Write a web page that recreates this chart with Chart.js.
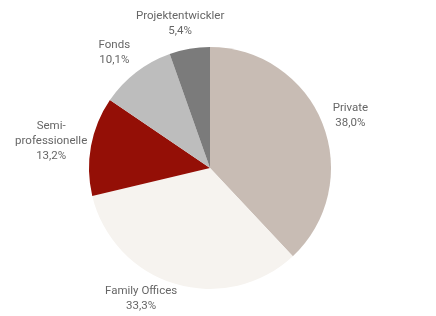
<!DOCTYPE html>
<html>
<head>
<meta charset="utf-8">
<script src="https://cdn.jsdelivr.net/npm/chart.js@4/dist/chart.umd.min.js"></script>
<style>
  html, body { margin: 0; padding: 0; background: #fff; }
  #wrap { width: 436px; height: 316px; position: relative; }
</style>
</head>
<body>
<div id="wrap"><canvas id="pieChart"></canvas></div>
<script>
(function () {
  'use strict';

  // data
  var labels = ['Private', 'Family Offices', 'Semi-\nprofessionelle', 'Fonds', 'Projektentwickler'];
  var values = [38.0, 33.3, 13.2, 10.1, 5.4];
  var colors = ['#c8bcb4', '#f6f3ef', '#940f06', '#bdbdbd', '#7b7b7b'];

  // label placement: angle nudge (deg) and distance beyond the rim (px)
  var labelTurn = [1, 11, -1, -2, -2];
  var labelGap = [29, 27, 40, 29, 26];

  var outsideLabels = {
    id: 'outsideLabels',
    afterDraw: function (chart) {
      var ctx = chart.ctx;
      var arcs = chart.getDatasetMeta(0).data;
      ctx.save();
      ctx.font = '11.5px Roboto, "Liberation Sans", sans-serif';
      ctx.fillStyle = '#666666';
      ctx.textAlign = 'center';
      ctx.textBaseline = 'middle';
      arcs.forEach(function (arc, i) {
        var mid = (arc.startAngle + arc.endAngle) / 2 + labelTurn[i] * Math.PI / 180;
        var d = arc.outerRadius + labelGap[i];
        var x = arc.x + Math.cos(mid) * d;
        var y = arc.y + Math.sin(mid) * d;
        var lines = labels[i].split('\n');
        lines.push(values[i].toFixed(1).replace('.', ',') + '%');
        var lh = 15;
        var top = y - (lines.length - 1) * lh / 2;
        lines.forEach(function (t, k) {
          ctx.fillText(t, x, top + k * lh);
        });
      });
      ctx.restore();
    }
  };

  var ctx = document.getElementById('pieChart').getContext('2d');
  new Chart(ctx, {
    type: 'pie',
    data: {
      labels: labels,
      datasets: [{
        data: values,
        backgroundColor: colors,
        borderWidth: 0
      }]
    },
    options: {
      responsive: true,
      maintainAspectRatio: false,
      animation: false,
      layout: { padding: { top: 47, bottom: 27, left: 0, right: 16 } },
      plugins: {
        legend: { display: false },
        tooltip: { enabled: false }
      }
    },
    plugins: [outsideLabels]
  });
})();
</script>
</body>
</html>
